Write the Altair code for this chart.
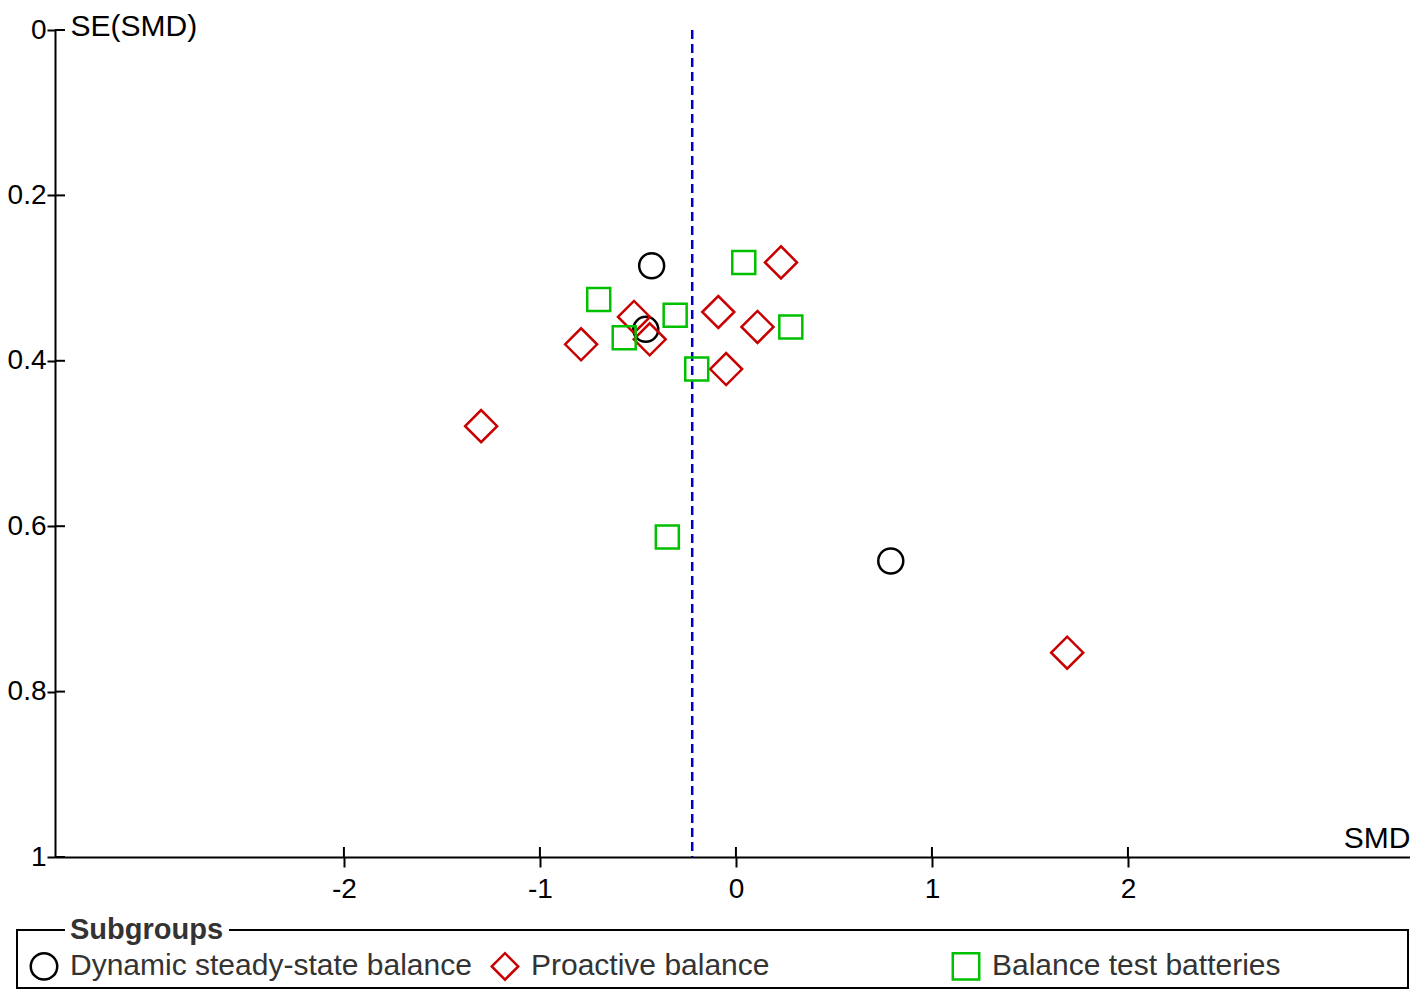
import altair as alt
import pandas as pd

# ---- data ----
groups = ["Dynamic steady-state balance", "Proactive balance", "Balance test batteries"]
circle_smd = [-0.43, -0.46, 0.79]
circle_se = [0.285, 0.362, 0.642]
diamond_smd = [0.23, -0.09, 0.11, -0.05, -0.52, -0.44, -0.79, -1.30, 1.69]
diamond_se = [0.281, 0.341, 0.359, 0.410, 0.347, 0.374, 0.380, 0.479, 0.753]
square_smd = [0.04, -0.70, -0.31, 0.28, -0.57, -0.20, -0.35]
square_se = [0.281, 0.326, 0.345, 0.359, 0.372, 0.410, 0.613]
pooled_smd = [-0.223]
x_ticks = [-2, -1, 0, 1, 2]
y_ticks = [0, 0.2, 0.4, 0.6, 0.8, 1]

rows = []
for g, xs, ys in zip(groups, [circle_smd, diamond_smd, square_smd], [circle_se, diamond_se, square_se]):
    for a, b in zip(xs, ys):
        rows.append({"group": g, "smd": a, "se": b})
df = pd.DataFrame(rows)

W, H = 1355, 827
FONT = "Liberation Sans"
xscale = alt.Scale(domain=[-3.474, 3.439], nice=False, zero=False)
yscale = alt.Scale(domain=[0, 1], reverse=True, nice=False, zero=False)
colors = ["#000000", "#C80000", "#00C000"]
shapes = ["circle", "diamond", "square"]
sizes = [625, 1024, 529]

leg = alt.Legend(
    title=None, orient="none", legendX=-26, legendY=921, direction="horizontal",
    columns=3, gridAlign="all", columnPadding=14, labelLimit=0,
    labelFont=FONT, labelFontSize=30, labelColor="#333333", labelOffset=11,
    symbolStrokeWidth=2.5, symbolSize=700, padding=0,
)

xaxis = alt.Axis(
    values=x_ticks, title="SMD", titleX=W, titleY=-10, titleAlign="right",
    titleBaseline="alphabetic", titleAngle=0, titleFont=FONT, titleFontSize=30,
    titleFontWeight="normal", titleColor="black",
    labelExpr="toString(datum.value)", labelFont=FONT, labelFontSize=28,
    labelColor="black", labelPadding=8, labelFlush=False,
    tickSize=10, tickWidth=2, tickColor="black", domainColor="black",
    domainWidth=2, grid=False)
yaxis = alt.Axis(
    values=y_ticks, title="SE(SMD)", titleX=15, titleY=5, titleAlign="left",
    titleBaseline="alphabetic", titleAngle=0, titleFont=FONT, titleFontSize=30,
    titleFontWeight="normal", titleColor="black",
    format="~g", labelFont=FONT, labelFontSize=28, labelColor="black",
    labelPadding=1, labelFlush=False, labelOverlap=False,
    tickSize=8, tickWidth=2, tickColor="black", domainColor="black",
    domainWidth=2, grid=False)

layers = []
for i, g in enumerate(groups):
    layers.append(
        alt.Chart(df).transform_filter(alt.datum.group == g)
        .mark_point(filled=False, strokeWidth=2.5, opacity=1)
        .encode(
            x=alt.X("smd:Q", scale=xscale, axis=xaxis),
            y=alt.Y("se:Q", scale=yscale, axis=yaxis),
            color=alt.Color("group:N", scale=alt.Scale(domain=groups, range=colors), legend=leg),
            shape=alt.Shape("group:N", scale=alt.Scale(domain=groups, range=shapes), legend=leg),
            size=alt.value(sizes[i]),
        )
    )

pooled = alt.Chart(pd.DataFrame({"smd": pooled_smd})).mark_rule(
    color="#0000C8", strokeDash=[9, 5], strokeWidth=2.5
).encode(x=alt.X("smd:Q", scale=xscale), y=alt.value(0), y2=alt.value(H))

ytick_in = alt.Chart(pd.DataFrame({"se": y_ticks})).mark_rule(color="black", strokeWidth=2).encode(
    y=alt.Y("se:Q", scale=yscale), x=alt.value(0), x2=alt.value(10))
xtick_in = alt.Chart(pd.DataFrame({"smd": x_ticks})).mark_rule(color="black", strokeWidth=2).encode(
    x=alt.X("smd:Q", scale=xscale), y=alt.value(H - 10), y2=alt.value(H))

one = pd.DataFrame({"a": [0]})
box = alt.Chart(one).mark_rect(fill="transparent", stroke="black", strokeWidth=2).encode(
    x=alt.value(-38), x2=alt.value(W - 2), y=alt.value(900), y2=alt.value(958))
title_bg = alt.Chart(one).mark_rect(fill="white").encode(
    x=alt.value(10), x2=alt.value(174), y=alt.value(893), y2=alt.value(908))
title_txt = alt.Chart(one).mark_text(
    text="Subgroups", font=FONT, fontSize=29, fontWeight="bold", color="#333333",
    align="left", baseline="alphabetic").encode(x=alt.value(15), y=alt.value(909))

chart = alt.layer(pooled, ytick_in, xtick_in, box, title_bg, title_txt, *layers).properties(
    width=W, height=H, autosize="none",
    padding={"left": 47, "top": 22, "right": 0, "bottom": 134},
).configure_view(stroke="transparent")

chart.save("out.html", embed_options={"renderer": "svg", "actions": False})
